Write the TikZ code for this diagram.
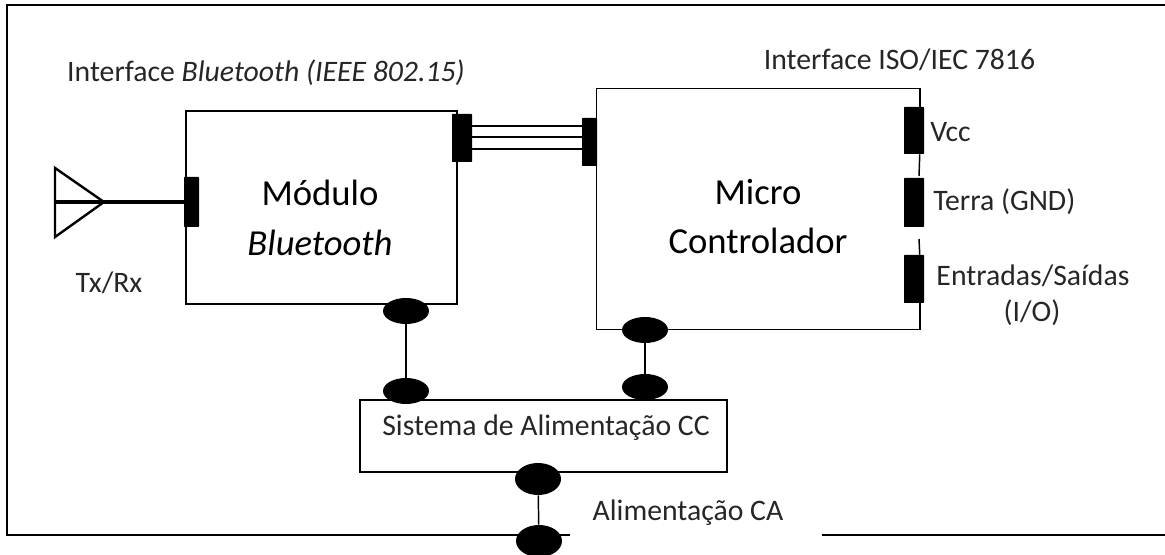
\documentclass[tikz,border=0pt]{standalone}
\usepackage{fontspec}
\setmainfont{Carlito}
\usepackage{tikz}
\usetikzlibrary{positioning,calc,shapes.geometric}
\tikzset{
  blockbox/.style={draw,line width=1.1pt,inner sep=0pt},
  padbar/.style={fill=black,inner sep=0pt,rounded corners=0.5pt},
  padoval/.style={ellipse,fill=black,inner sep=0pt,minimum width=34.5pt,minimum height=19.5pt},
  padovalbig/.style={padoval,minimum height=24pt},
  biglabel/.style={font=\fontsize{27.5}{32}\selectfont,inner sep=0pt},
  smalllabel/.style={font=\fontsize{22.3}{26}\selectfont,text=black!85,inner sep=0pt},
  wire/.style={line width=1.1pt}
}
\begin{document}
\begin{tikzpicture}[x=0.75pt,y=-0.75pt]
  \useasboundingbox (0,0) rectangle (1165,555);
  % moldura
  \draw[line width=1.4pt] (1165,5)--(7,5)--(7,535)--(570,535);
  \draw[line width=1.1pt] (822,535)--(1165,535);
  % modulo bluetooth
  \node[blockbox,minimum width=203.25pt,minimum height=144.75pt] (modbt) at (321.5,207.5) {};
  \node[biglabel] (modtitle) at (320,193) {Módulo};
  \node[biglabel] (modsub) at (320,243) {\textit{Bluetooth}};
  \node[padbar,minimum width=11.25pt,minimum height=37.5pt] (padant) at (191.5,202) {};
  \node[padbar,minimum width=15pt,minimum height=36pt] (padbt) at (462,138) {};
  \node[padoval] (padbtpow) at (406,311) {};
  % antena
  \coordinate (anttop) at (55,168);
  \coordinate (anttip) at (104,202);
  \coordinate (antbot) at (55,237);
  \coordinate (antmid) at (55,202);
  \draw[line width=1.8pt] (anttop)--(anttip)--(antbot)--cycle;
  \draw[line width=2.4pt] (antmid)--(padant);
  \node[smalllabel] (txrx) at (109,283) {Tx/Rx};
  \node[smalllabel] (ifbt) at (266,73) {Interface \textit{Bluetooth (IEEE 802.15)}};
  % micro controlador
  \node[inner sep=0pt,minimum width=242.25pt,minimum height=180pt] (micro) at (758,209) {};
  \node[biglabel] (microtitle) at (758,192) {Micro};
  \node[biglabel] (microsub) at (758,241) {Controlador};
  \node[padbar,minimum width=11.25pt,minimum height=36pt] (padmc) at (589.5,142) {};
  \node[padbar,minimum width=15pt,minimum height=35.25pt] (padvcc) at (914,130.5) {};
  \node[padbar,minimum width=15pt,minimum height=36.75pt] (padgnd) at (914,202.5) {};
  \node[padbar,minimum width=15pt,minimum height=36pt] (padio) at (914,279) {};
  \coordinate (gapio) at (919,239);
  \coordinate (gapgnd) at (919,176);
  \draw[wire] (micro.east |- padvcc.north)--(micro.north east)--(micro.north west)--(micro.south west)--(micro.south east)--(micro.east |- padio.south);
  \draw[wire] (micro.east |- padvcc.south)--(gapgnd);
  \draw[wire] (gapio)--(micro.east |- padio.north);
  \node[padoval] (padmcpow) at (645,330) {};
  \node[smalllabel] (ifiso) at (899.5,60) {Interface ISO/IEC 7816};
  \node[smalllabel,anchor=west] (lblvcc) at (930,132) {Vcc};
  \node[smalllabel,anchor=west] (lblgnd) at (933,202) {Terra (GND)};
  \node[smalllabel] (lblio) at (1033,276) {Entradas/Saídas};
  \node[smalllabel] (lbliob) at (1032,313) {(I/O)};
  % barramento
  \foreach \wy in {126,137,149}
    \draw[wire] (padbt.east |- 0,\wy)--(padmc.west |- 0,\wy);
  % alimentacao
  \node[blockbox,minimum width=275.25pt,minimum height=54pt] (dcsys) at (543.5,436) {};
  \node[smalllabel] (dctext) at (546,428) {Sistema de Alimentação CC};
  \node[padoval] (dcbt) at (406,391) {};
  \node[padoval] (dcmc) at (645,387) {};
  \node[padovalbig] (dcac) at (538,479) {};
  \node[padovalbig] (acin) at (539,541) {};
  \node[smalllabel] (lblac) at (688,513) {Alimentação CA};
  \draw[wire] (padbtpow)--(dcbt);
  \draw[wire] (padmcpow)--(dcmc);
  \draw[wire] (dcac)--(acin);
\end{tikzpicture}
\end{document}
